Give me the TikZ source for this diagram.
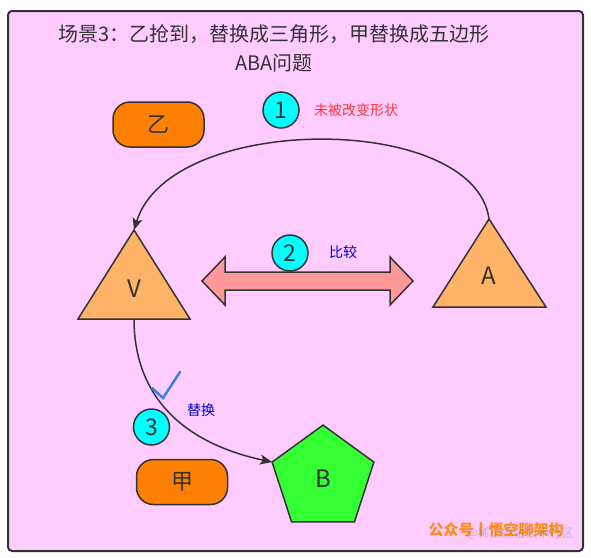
\documentclass[tikz,border=0pt]{standalone}
\usepackage{fontspec}
\setmainfont{Noto Sans CJK SC}
\usetikzlibrary{shapes.geometric,arrows.meta}
\definecolor{bgpink}{HTML}{FFCCFF}
\definecolor{linec}{HTML}{333333}
\definecolor{boxorange}{HTML}{FF8000}
\definecolor{trifill}{HTML}{FFB366}
\definecolor{numcyan}{HTML}{00FFFF}
\definecolor{salmon}{HTML}{FF9999}
\definecolor{pentgreen}{HTML}{33FF33}
\definecolor{redtxt}{HTML}{FF3333}
\definecolor{bluetxt}{HTML}{0000CC}
\definecolor{checkblue}{HTML}{3A80E6}
\definecolor{wmorange}{HTML}{FF8C1A}
\begin{document}
\begin{tikzpicture}[x=1pt,y=-1pt,
  frame/.style={draw=linec,line width=2pt,fill=bgpink,rounded corners=4pt},
  pill/.style={draw=linec,line width=1.5pt,fill=boxorange,rounded corners=17pt,minimum width=91pt,minimum height=45pt,inner sep=0pt,font=\fontsize{22}{26}\selectfont,text=linec},
  tri/.style={draw=linec,line width=1.5pt,fill=trifill,line join=miter},
  lbl/.style={font=\fontsize{24}{28}\selectfont,text=linec,inner sep=0pt},
  num/.style={circle,draw=linec,line width=1.5pt,fill=numcyan,minimum size=36pt,inner sep=0pt,font=\fontsize{23}{26}\selectfont,text=linec},
  pent/.style={regular polygon,regular polygon sides=5,draw=linec,line width=1.5pt,fill=pentgreen,minimum size=107pt,inner sep=0pt,outer sep=0pt,font=\fontsize{24}{28}\selectfont,text=linec},
  conn/.style={draw=linec,line width=1.5pt,-{Stealth[length=12pt,width=10pt,inset=3pt]}},
  smalllbl/.style={font=\fontsize{14}{16}\selectfont,inner sep=0pt}
]
\useasboundingbox (0,0) rectangle (591,557);
\fill[white] (0,0) rectangle (591,557);
\draw[frame] (8,11) rectangle (583,551);

% title
\node[font=\fontsize{20}{29}\selectfont,text=linec,align=center] (title) at (274,48) {场景3：乙抢到，替换成三角形，甲替换成五边形\\ABA问题};

% boxes
\node[pill] (yi) at (158.5,124.5) {乙};
\node[pill] (jia) at (182,482) {甲};

% triangle V
\draw[tri] (134,230) -- (190,319) -- (78,319) -- cycle;
\coordinate (Vtop) at (134,230);
\coordinate (Vbot) at (134,319);
\node[lbl] (V) at (134,289) {V};

% triangle A
\draw[tri] (489,219) -- (546,307) -- (433,307) -- cycle;
\coordinate (Atop) at (489,219);
\node[lbl] (A) at (489,276) {A};

% pentagon B
\node[pent] (B) at (323,478.6) {B};

% double arrow
\draw[draw=linec,line width=1.5pt,fill=salmon,line join=miter]
  (202,281) -- (225,257) -- (225,272) -- (390,272) -- (390,257) -- (413,281)
  -- (390,305) -- (390,290) -- (225,290) -- (225,305) -- cycle;

% connectors
\draw[conn] (Atop) .. controls (475,112) and (170,112) .. (Vtop);
\draw[conn] (Vbot) .. controls (134,392) and (178,442) .. (B.corner 2);

% numbers
\node[num] (n1) at (281,110) {1};
\node[num] (n2) at (290,253) {2};
\node[num] (n3) at (151.5,427) {3};

% labels
\node[smalllbl,text=redtxt] (l1) at (356,110) {未被改变形状};
\node[smalllbl,text=bluetxt] (l2) at (343,252) {比较};
\node[smalllbl,text=bluetxt] (l3) at (201,410) {替换};

% check mark
\draw[checkblue,line width=2.5pt,line cap=round,line join=miter] (152,388) -- (163,398) -- (180,372);

% watermark
\node[font=\fontsize{15}{18}\selectfont\bfseries,text=wmorange,inner sep=0pt] (wm) at (496,530) {公众号丨悟空聊架构};
\node[font=\fontsize{12}{14}\selectfont,text=gray,opacity=0.4,inner sep=0pt] (wm2) at (520,533) {@稀土掘金技术社区};
\end{tikzpicture}
\end{document}
